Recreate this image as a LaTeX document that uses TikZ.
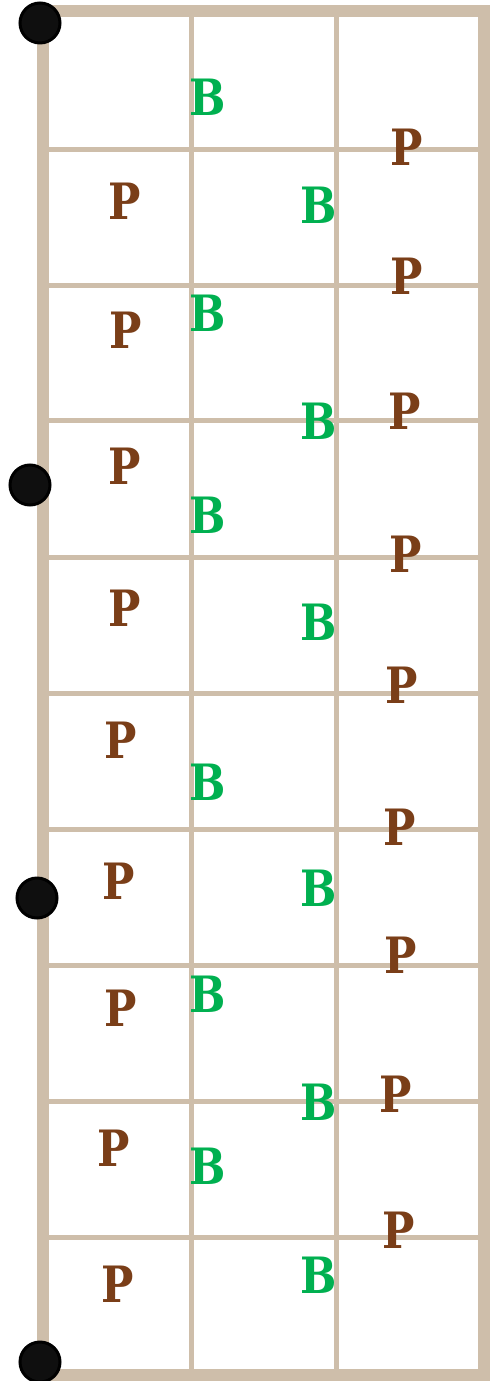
\documentclass[tikz,border=0pt]{standalone}
\usepackage{fontspec}
\newfontfamily\boardfont[FakeStretch=0.86]{DejaVu Serif}
\usepackage{xcolor}
\definecolor{frametan}{RGB}{206,190,170}
\definecolor{bgreen}{RGB}{0,176,80}
\definecolor{pbrown}{RGB}{122,62,24}

\begin{document}
\begin{tikzpicture}[x=0.02cm,y=-0.02cm,
  gridline/.style={frametan,line width=0.1cm},
  boardframe/.style={frametan,line width=0.24cm},
  bpiece/.style={font=\boardfont\bfseries\fontsize{28.5}{29}\selectfont,text=bgreen,inner sep=0pt},
  ppiece/.style={font=\boardfont\bfseries\fontsize{28.5}{29}\selectfont,text=pbrown,inner sep=0pt},
  pin/.style={circle,draw=black,fill=black!94,line width=0.06cm,minimum size=0.8cm,inner sep=0pt}
]
\useasboundingbox (0,0) rectangle (498,1381);
% grid
\foreach \y in {150,286,421,557,693,829,965,1101,1237}
  \draw[gridline] (43,\y) -- (484,\y);
\draw[gridline] (191,11) -- (191,1375);
\draw[gridline] (336,11) -- (336,1375);
\draw[boardframe] (43,11) rectangle (484,1375);
% pieces
\node[bpiece] (b1)  at (208,97)   {B};
\node[ppiece] (p1)  at (407,147)  {P};
\node[ppiece] (p2)  at (125,201)  {P};
\node[bpiece] (b2)  at (319,205)  {B};
\node[ppiece] (p3)  at (407,276)  {P};
\node[ppiece] (p4)  at (126,330)  {P};
\node[bpiece] (b3)  at (208,313)  {B};
\node[bpiece] (b4)  at (319,421)  {B};
\node[ppiece] (p5)  at (405,411)  {P};
\node[ppiece] (p6)  at (125,466)  {P};
\node[bpiece] (b5)  at (208,515)  {B};
\node[ppiece] (p7)  at (406,554)  {P};
\node[ppiece] (p8)  at (125,608)  {P};
\node[bpiece] (b6)  at (319,622)  {B};
\node[ppiece] (p9)  at (402,685)  {P};
\node[ppiece] (p10) at (121,740)  {P};
\node[bpiece] (b7)  at (208,782)  {B};
\node[ppiece] (p11) at (400,827)  {P};
\node[ppiece] (p12) at (119,881)  {P};
\node[bpiece] (b8)  at (319,888)  {B};
\node[ppiece] (p13) at (401,955)  {P};
\node[ppiece] (p14) at (121,1008) {P};
\node[bpiece] (b9)  at (208,994)  {B};
\node[bpiece] (b10) at (319,1102) {B};
\node[ppiece] (p15) at (396,1094) {P};
\node[ppiece] (p16) at (114,1148) {P};
\node[bpiece] (b11) at (208,1166) {B};
\node[ppiece] (p17) at (399,1230) {P};
\node[ppiece] (p18) at (118,1284) {P};
\node[bpiece] (b12) at (319,1275) {B};
% pins
\node[pin] (pin1) at (40,23)   {};
\node[pin] (pin2) at (30,485)  {};
\node[pin] (pin3) at (37,898)  {};
\node[pin] (pin4) at (40,1362) {};
\end{tikzpicture}
\end{document}
